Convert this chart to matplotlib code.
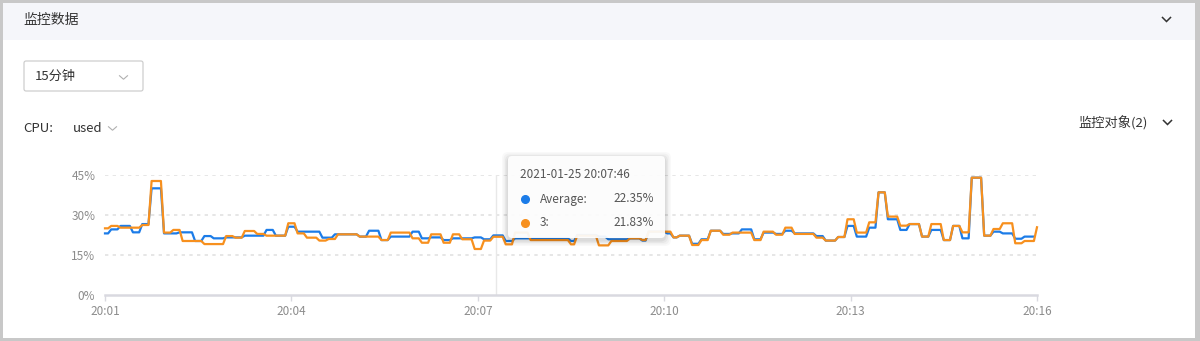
import numpy as np
import matplotlib
matplotlib.use('Agg')
import matplotlib.pyplot as plt
from matplotlib.patches import Rectangle, FancyBboxPatch
from matplotlib.lines import Line2D
from matplotlib.transforms import Affine2D
from datetime import datetime, timedelta

plt.rcParams['font.family'] = ['Noto Sans CJK SC', 'DejaVu Sans']

W, H = 1200, 341

# CPU used (%) sampled every 3 s; each value is held for `counts` samples
step_sec = 3
start_time = datetime(2021, 1, 25, 20, 1, 28)
cursor_time = datetime(2021, 1, 25, 20, 7, 46)

avg_values = [23.1, 24.6, 25.9, 23.5, 26.6, 40.0, 23.1, 23.5, 20.25, 22.1,
              21.25, 21.6, 22.25, 24.4, 22.25, 25.6, 23.75, 21.5, 22.75, 21.9,
              24.1, 20.6, 21.9, 23.75, 21.25, 21.6, 20.6, 21.25, 21.6, 20.9,
              22.35, 20.25, 21.25, 20.25, 22.5, 21.9, 20.9, 21.25, 20.4, 23.75,
              23.1, 21.6, 22.25, 19.2, 20.9, 24.1, 22.9, 23.1, 24.6, 20.9,
              23.4, 22.9, 24.1, 23.1, 22.1, 20.4, 21.75, 25.9, 21.9, 25.25,
              38.5, 28.4, 24.4, 26.6, 21.9, 24.4, 20.6, 25.9, 21.25, 44.0,
              22.25, 23.75, 23.1, 21.1, 21.9]
avg_counts = [2, 3, 4, 3, 3, 4, 5, 5, 3, 3,
              4, 6, 7, 3, 4, 3, 8, 4, 8, 3,
              4, 3, 7, 3, 3, 4, 3, 7, 3, 3,
              4, 3, 18, 2, 7, 3, 7, 4, 2, 6,
              2, 2, 4, 3, 3, 4, 3, 3, 4, 3,
              4, 3, 3, 7, 3, 4, 3, 3, 4, 3,
              3, 4, 3, 4, 3, 4, 3, 3, 3, 4,
              3, 3, 4, 3, 4]

host3_values = [25.0, 25.9, 25.25, 26.25, 42.75, 23.4, 24.4, 20.25, 19.1, 22.1,
                21.5, 24.0, 22.9, 22.25, 26.9, 23.1, 21.5, 20.4, 21.0, 22.75,
                21.9, 20.6, 23.4, 21.25, 19.6, 22.75, 19.6, 22.75, 20.9, 17.25,
                20.4, 21.83, 19.0, 23.4, 20.6, 19.0, 22.25, 18.6, 20.25, 21.25,
                20.6, 23.75, 21.6, 22.25, 18.75, 20.6, 24.1, 22.6, 23.4, 20.6,
                23.75, 22.6, 25.25, 22.9, 21.5, 20.4, 21.75, 28.4, 23.4, 27.25,
                38.5, 29.4, 26.0, 26.6, 21.9, 26.6, 20.6, 25.9, 23.5, 44.0,
                22.25, 24.75, 26.9, 19.4, 20.25, 25.4]
host3_counts = [2, 3, 7, 3, 4, 3, 3, 7, 7, 3,
                3, 4, 3, 7, 3, 3, 4, 3, 3, 7,
                7, 3, 7, 3, 3, 4, 3, 3, 4, 3,
                3, 4, 3, 5, 13, 2, 7, 4, 6, 4,
                2, 8, 2, 4, 3, 3, 4, 3, 7, 3,
                4, 3, 3, 7, 3, 4, 3, 3, 4, 3,
                3, 4, 3, 4, 3, 4, 3, 3, 3, 4,
                3, 3, 4, 3, 4, 1]

series_names = ['Average', '3']
y_ticks = [0, 15, 30, 45]
x_tick_step = 180  # seconds
span = 900

avg = np.repeat(avg_values, avg_counts)
host3 = np.repeat(host3_values, host3_counts)
t_avg = np.arange(len(avg)) * step_sec
t_host3 = np.arange(len(host3)) * step_sec

BLUE = '#1c7ce8'
ORANGE = '#f7901e'

fig = plt.figure(figsize=(W / 100, H / 100), dpi=100, facecolor='#c8c8c8')

# pixel coordinates measured from the top-left corner
px = Affine2D().scale(1 / 100, -1 / 100).translate(0, H / 100) + fig.dpi_scale_trans


def rect(x0, y0, x1, y1, z=0, **kw):
    fig.add_artist(Rectangle((x0, y1), x1 - x0, y0 - y1, transform=px, zorder=z, **kw))


def chevron(cx, cy, w, h, color, lw):
    fig.add_artist(Line2D([cx - w / 2, cx, cx + w / 2], [cy - h / 2, cy + h / 2, cy - h / 2],
                          transform=px, color=color, lw=lw, zorder=3,
                          solid_joinstyle='miter'))


def label(x, y, s, size=10, color='#333333', ha='left', z=3):
    fig.text(x, y, s, transform=px, fontsize=size, color=color, ha=ha, va='center', zorder=z)


# panel and header
rect(3, 3, 1195, 338, facecolor='white', edgecolor='none')
rect(3, 3, 1195, 40, facecolor='#f5f6fa', edgecolor='none', z=1)
label(23, 20, '监控数据', size=10)
chevron(1166.5, 19.5, 8, 4, '#333333', 1.1)

# time range selector
fig.add_artist(FancyBboxPatch((24, 61), 119, 30, boxstyle='round,pad=0,rounding_size=2',
                              transform=px, facecolor='white', edgecolor='#c9c9c9', lw=0.8, zorder=2))
label(35, 76, '15分钟', size=9.5)
chevron(123.5, 77.5, 8, 3.5, '#b0b0b0', 0.8)

label(23, 128, 'CPU:', size=9.5)
label(73, 128, 'used', size=9.5)
chevron(112.5, 128.5, 8, 3.5, '#b0b0b0', 0.8)

label(1148, 123, '监控对象(2)', size=9.5, ha='right')
chevron(1167.5, 122.5, 8, 4, '#333333', 1.1)

# chart
ax = fig.add_axes([105 / W, 1 - 295 / H, 932 / W, 120 / H])
ax.set_facecolor('none')
ax.set_xlim(0, span)
ax.set_ylim(0, 45)

for v in y_ticks[1:]:
    ax.axhline(v, color='#e1e1e1', lw=1.2, linestyle=(0, (2, 2.6)), zorder=0)

cursor_sec = int((cursor_time - start_time).total_seconds())
ax.axvline(cursor_sec, color='#e8e8e8', lw=1.0, zorder=1)

ax.plot(t_avg, avg, color=BLUE, lw=1.6, zorder=3, clip_on=False, solid_joinstyle='round')
ax.plot(t_host3, host3, color=ORANGE, lw=1.6, zorder=4, clip_on=False, solid_joinstyle='round')

for side in ['top', 'right', 'left']:
    ax.spines[side].set_visible(False)
ax.spines['bottom'].set_color('#d9d9e0')
ax.spines['bottom'].set_linewidth(1.8)

x_ticks = np.arange(0, span + 1, x_tick_step)
ax.set_xticks(x_ticks)
ax.set_xticklabels([(start_time + timedelta(seconds=int(s))).strftime('%H:%M') for s in x_ticks])
ax.set_yticks(y_ticks)
ax.set_yticklabels([f'{v}%' for v in y_ticks])
ax.tick_params(axis='x', colors='#d9d9e0', length=4, width=1, labelcolor='#8c8c8c',
               labelsize=8.5, pad=3)
ax.tick_params(axis='y', length=0, labelcolor='#8c8c8c', labelsize=8.5, pad=7)

# tooltip at the cursor
idx = cursor_sec // step_sec
for i, a in enumerate([0.025, 0.03, 0.04, 0.05]):
    grow = 6 - i * 1.5
    fig.add_artist(FancyBboxPatch((508 - grow, 156 - grow + 2), 157 + 2 * grow, 82 + 2 * grow,
                                  boxstyle='round,pad=0,rounding_size=6', transform=px,
                                  facecolor='black', edgecolor='none', alpha=a, zorder=6))
fig.add_artist(FancyBboxPatch((508, 156), 157, 82, boxstyle='round,pad=0,rounding_size=4',
                              transform=px, facecolor='white', edgecolor='none', alpha=0.93, zorder=7))
label(520, 175, cursor_time.strftime('%Y-%m-%d %H:%M:%S'), size=8.5, color='#555555', z=8)
rows = [(series_names[0], avg[idx], BLUE, 199), (series_names[1], host3[idx], ORANGE, 223)]
for name, val, col, yy in rows:
    fig.add_artist(Line2D([524.5], [yy], transform=px, marker='o', markersize=5.5,
                          color=col, zorder=8))
    label(540, yy, f'{name}:', size=8.5, color='#555555', z=8)
    label(654, yy, f'{val:.2f}%', size=8.5, color='#555555', ha='right', z=8)

fig.savefig('out.png', dpi=100, facecolor=fig.get_facecolor())
